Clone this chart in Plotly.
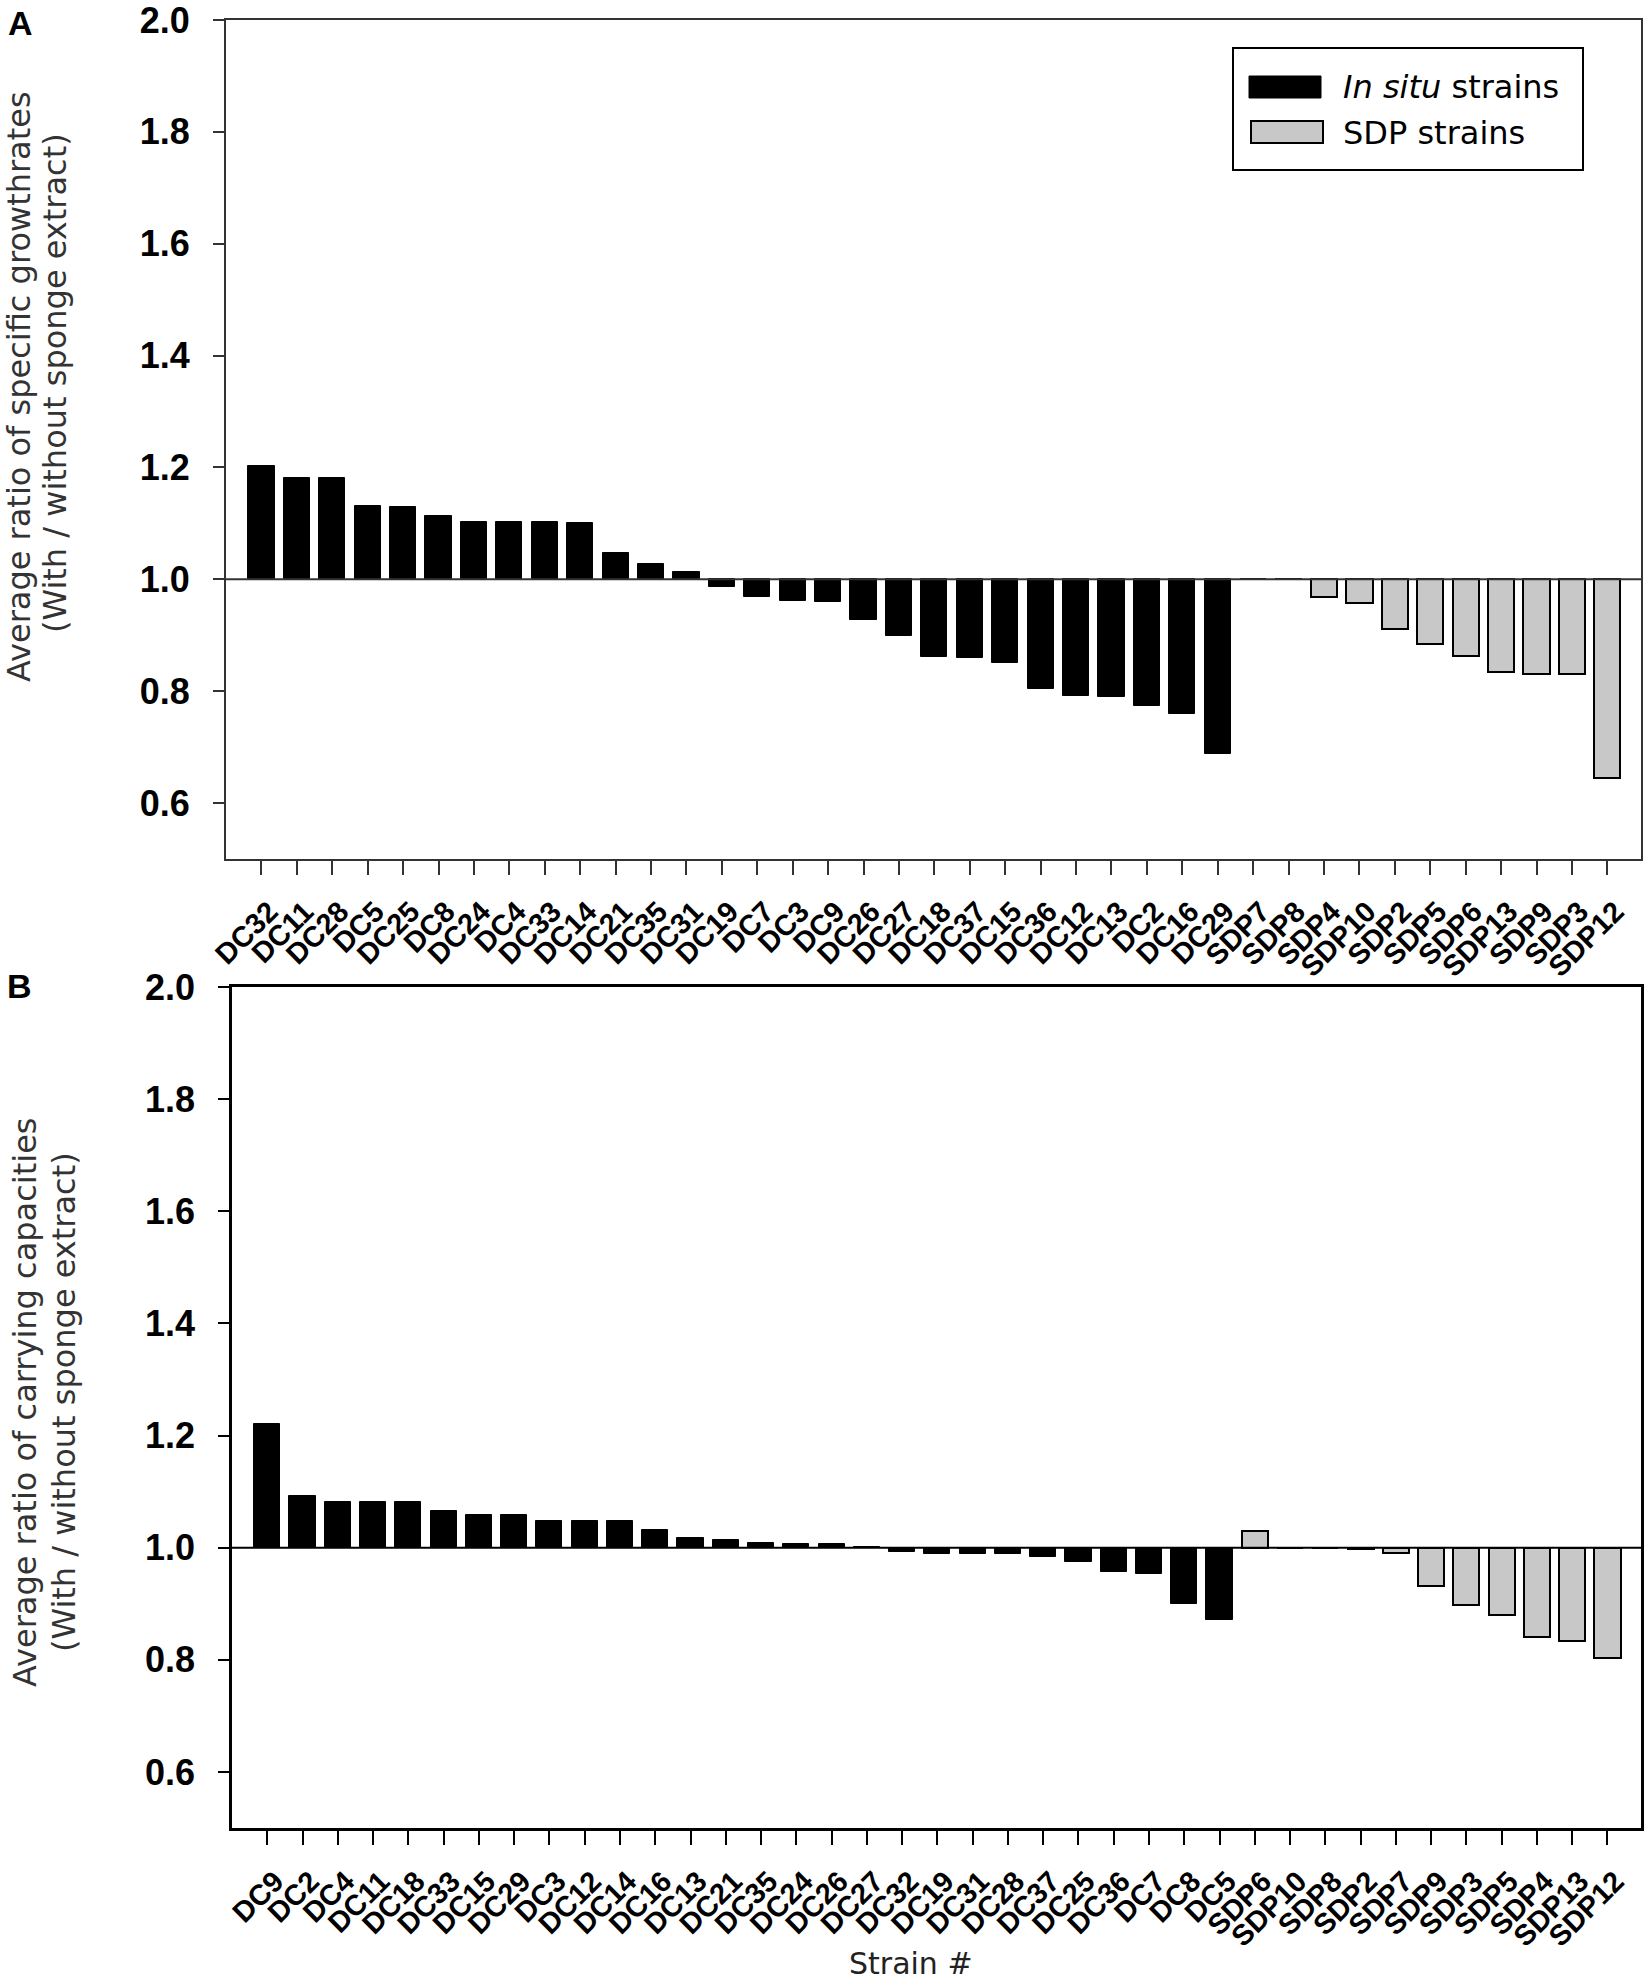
import plotly.graph_objects as go

# panel A: specific growth rate ratios
strains_a = ["DC32", "DC11", "DC28", "DC5", "DC25", "DC8", "DC24", "DC4", "DC33", "DC14",
             "DC21", "DC35", "DC31", "DC19", "DC7", "DC3", "DC9", "DC26", "DC27", "DC18",
             "DC37", "DC15", "DC36", "DC12", "DC13", "DC2", "DC16", "DC29",
             "SDP7", "SDP8", "SDP4", "SDP10", "SDP2", "SDP5", "SDP6", "SDP13", "SDP9", "SDP3", "SDP12"]
ratio_a = [1.202, 1.181, 1.181, 1.131, 1.129, 1.113, 1.103, 1.103, 1.102, 1.100,
           1.047, 1.027, 1.013, 0.986, 0.969, 0.961, 0.960, 0.927, 0.899, 0.862,
           0.859, 0.850, 0.804, 0.792, 0.790, 0.773, 0.760, 0.687,
           1.000, 1.000, 0.969, 0.957, 0.912, 0.885, 0.863, 0.835, 0.831, 0.831, 0.645]

# panel B: carrying capacity ratios
strains_b = ["DC9", "DC2", "DC4", "DC11", "DC18", "DC33", "DC15", "DC29", "DC3", "DC12",
             "DC14", "DC16", "DC13", "DC21", "DC35", "DC24", "DC26", "DC27", "DC32", "DC19",
             "DC31", "DC28", "DC37", "DC25", "DC36", "DC7", "DC8", "DC5",
             "SDP6", "SDP10", "SDP8", "SDP2", "SDP7", "SDP9", "SDP3", "SDP5", "SDP4", "SDP13", "SDP12"]
ratio_b = [1.220, 1.093, 1.082, 1.082, 1.082, 1.065, 1.059, 1.059, 1.048, 1.048,
           1.048, 1.031, 1.018, 1.013, 1.008, 1.007, 1.006, 1.002, 0.993, 0.989,
           0.988, 0.988, 0.983, 0.975, 0.957, 0.953, 0.900, 0.871,
           1.030, 1.000, 1.000, 0.997, 0.990, 0.932, 0.897, 0.880, 0.840, 0.834, 0.804]

y_ticks = [0.6, 0.8, 1.0, 1.2, 1.4, 1.6, 1.8, 2.0]
baseline = 1.0

W, H = 1650, 1985
ARIAL = "Liberation Sans, Arial, sans-serif"
WIDE = "DejaVu Sans, Liberation Sans, Arial"


def px(x):
    return x / W


def py(y):
    return 1 - y / H


def add_panel(fig, strains, ratios, xa, ya):
    dc = [(s, r) for s, r in zip(strains, ratios) if s.startswith("DC")]
    sdp = [(s, r) for s, r in zip(strains, ratios) if s.startswith("SDP")]
    fig.add_trace(go.Bar(
        x=[s for s, _ in dc], y=[r - baseline for _, r in dc], base=baseline,
        marker=dict(color="#000000", line=dict(color="#000000", width=1)),
        width=0.74, xaxis=xa, yaxis=ya, showlegend=False))
    fig.add_trace(go.Bar(
        x=[s for s, _ in sdp], y=[r - baseline for _, r in sdp], base=baseline,
        marker=dict(color="#c8c8c8", line=dict(color="#000000", width=2)),
        width=0.74, xaxis=xa, yaxis=ya, showlegend=False))


fig = go.Figure()
add_panel(fig, strains_a, ratio_a, "x", "y")
add_panel(fig, strains_b, ratio_b, "x2", "y2")

xcommon = dict(type="category", range=[-1, 38.95], showline=True, mirror=True,
               ticks="outside", ticklen=14, tickwidth=2, tickangle=-45, automargin=False,
               ticklabeloverflow="allow", ticklabelstandoff=8, ticklabelshift=8,
               tickfont=dict(family=ARIAL, size=29, color="#000", weight="bold"),
               showgrid=False, zeroline=False)
ycommon = dict(range=[0.5, 2.0], tickvals=y_ticks, tickformat=".1f", showline=True, mirror=True,
               ticks="outside", ticklen=11, tickwidth=2, ticklabelstandoff=16, automargin=False,
               ticklabeloverflow="allow",
               tickfont=dict(family=ARIAL, size=36, color="#000", weight="bold"),
               showgrid=False, zeroline=False)

fig.update_layout(
    width=W, height=H,
    margin=dict(l=0, r=0, t=0, b=0, autoexpand=False),
    paper_bgcolor="white", plot_bgcolor="white",
    bargap=0, showlegend=False,
    xaxis=dict(xcommon, domain=[px(226), px(1641)], anchor="y",
               categoryorder="array", categoryarray=strains_a,
               linecolor="#333", linewidth=2, tickcolor="#333"),
    yaxis=dict(ycommon, domain=[py(859), py(20)], anchor="x",
               linecolor="#333", linewidth=2, tickcolor="#333"),
    xaxis2=dict(xcommon, domain=[px(232), px(1641)], anchor="y2",
                categoryorder="array", categoryarray=strains_b,
                linecolor="#000", linewidth=2.5, tickcolor="#000"),
    yaxis2=dict(ycommon, domain=[py(1828), py(987)], anchor="x2",
                linecolor="#000", linewidth=2.5, tickcolor="#000"),
)

# reference line at ratio 1.0
for xr, yr, col in [("x domain", "y", "#333"), ("x2 domain", "y2", "#000")]:
    fig.add_shape(type="line", xref=xr, yref=yr, x0=0, x1=1, y0=baseline, y1=baseline,
                  line=dict(color=col, width=2), layer="above")

# legend drawn by hand so the swatches can be wide
legend_shapes = [
    dict(x0=1233, x1=1583, y0=48, y1=170, fill="white", lw=2),
    dict(x0=1249, x1=1321, y0=76, y1=98, fill="#000000", lw=1),
    dict(x0=1251, x1=1323, y0=121, y1=143, fill="#c8c8c8", lw=2),
]
for s in legend_shapes:
    fig.add_shape(type="rect", xref="paper", yref="paper",
                  x0=px(s["x0"]), x1=px(s["x1"]), y0=py(s["y1"]), y1=py(s["y0"]),
                  fillcolor=s["fill"], line=dict(color="#000", width=s["lw"]))

notes = [
    ("<i>In situ</i> strains", 1341, 87, "left", 0, 32, WIDE, "normal", "#000"),
    ("SDP strains", 1341, 133, "left", 0, 32, WIDE, "normal", "#000"),
    ("A", 20, 23, "center", 0, 34, ARIAL, "bold", "#000"),
    ("B", 19, 986, "center", 0, 34, ARIAL, "bold", "#000"),
    ("Average ratio of specific growthrates", 19, 387, "center", -90, 32, WIDE, "normal", "#333"),
    ("(With / without sponge extract)", 55, 383, "center", -90, 32, WIDE, "normal", "#333"),
    ("Average ratio of carrying capacities", 25, 1402, "center", -90, 32, WIDE, "normal", "#333"),
    ("(With / without sponge extract)", 64, 1402, "center", -90, 32, WIDE, "normal", "#333"),
    ("Strain #", 911, 1963, "center", 0, 30, WIDE, "normal", "#222"),
]
for text, x, y, xanchor, angle, size, family, weight, color in notes:
    fig.add_annotation(text=text, xref="paper", yref="paper", x=px(x), y=py(y),
                       xanchor=xanchor, yanchor="middle", textangle=angle, showarrow=False,
                       font=dict(family=family, size=size, color=color, weight=weight))

# drop the default 8px page margin so the figure fills the window exactly
fig.write_html("out.html", config={"displayModeBar": False},
               post_script="document.body.style.margin = '0';")
